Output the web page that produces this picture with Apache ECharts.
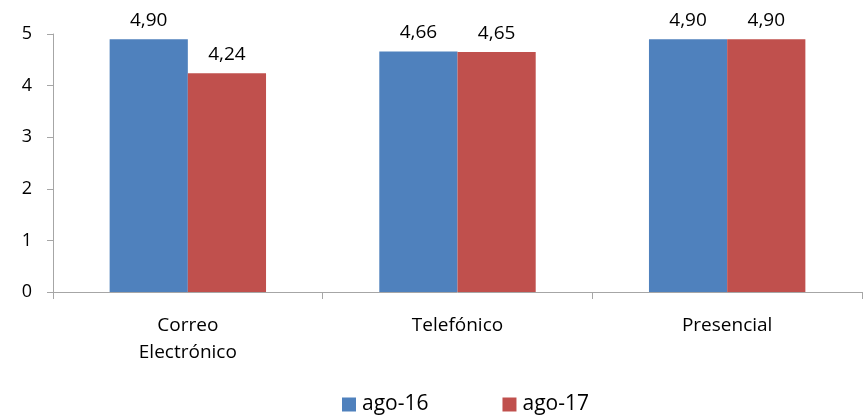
<!DOCTYPE html>
<html>
<head>
<meta charset="utf-8">
<script src="https://cdn.jsdelivr.net/npm/echarts@6/dist/echarts.min.js"></script>
<style>
  html, body { margin: 0; padding: 0; background: #fff; }
  #chart { width: 866px; height: 417px; }
</style>
</head>
<body>
<div id="chart"></div>
<script>
// Channel names and average scores per period
const categories = ['Correo\nElectrónico', 'Telefónico', 'Presencial'];
const seriesNames = ['ago-16', 'ago-17'];
const ago16 = [4.90, 4.66, 4.90];
const ago17 = [4.24, 4.65, 4.90];
const yTicks = [0, 1, 2, 3, 4, 5];

const FONT = '"Open Sans", "Noto Sans", sans-serif';
const AXIS_COLOR = '#A6A6A6';

const fmt = v => v.toFixed(2).replace('.', ',');

const barLabel = {
  show: true, position: 'top', distance: 9, color: '#000',
  fontSize: 19, fontFamily: FONT, formatter: p => fmt(p.value)
};

const chart = echarts.init(document.getElementById('chart'));
chart.setOption({
  animation: false,
  textStyle: { fontFamily: FONT },
  grid: { left: 53, right: 4, top: 34, bottom: 125, containLabel: false },
  legend: {
    data: seriesNames,
    top: 389,
    left: 337,
    itemWidth: 14,
    itemHeight: 14,
    itemGap: 74,
    icon: 'rect',
    textStyle: { fontFamily: FONT, fontSize: 21, color: '#000', padding: [0, 0, 0, 1] }
  },
  xAxis: {
    type: 'category',
    data: categories,
    axisLine: { lineStyle: { color: AXIS_COLOR, width: 1 } },
    axisTick: { show: true, alignWithLabel: false, length: 7, lineStyle: { color: AXIS_COLOR } },
    axisLabel: { color: '#000', fontSize: 19, lineHeight: 27, margin: 20, fontFamily: FONT }
  },
  yAxis: {
    type: 'value',
    min: yTicks[0],
    max: yTicks[yTicks.length - 1],
    interval: 1,
    splitLine: { show: false },
    axisLine: { show: true, lineStyle: { color: AXIS_COLOR, width: 1 } },
    axisTick: { show: true, length: 6, lineStyle: { color: AXIS_COLOR } },
    axisLabel: { color: '#000', fontSize: 18, margin: 21, fontFamily: FONT }
  },
  series: [
    {
      name: seriesNames[0],
      type: 'bar',
      data: ago16,
      barGap: '0%',
      barCategoryGap: '42%',
      itemStyle: { color: '#4F81BD' },
      label: barLabel
    },
    {
      name: seriesNames[1],
      type: 'bar',
      data: ago17,
      barGap: '0%',
      barCategoryGap: '42%',
      itemStyle: { color: '#C0504D' },
      label: barLabel
    }
  ]
});
</script>
</body>
</html>
